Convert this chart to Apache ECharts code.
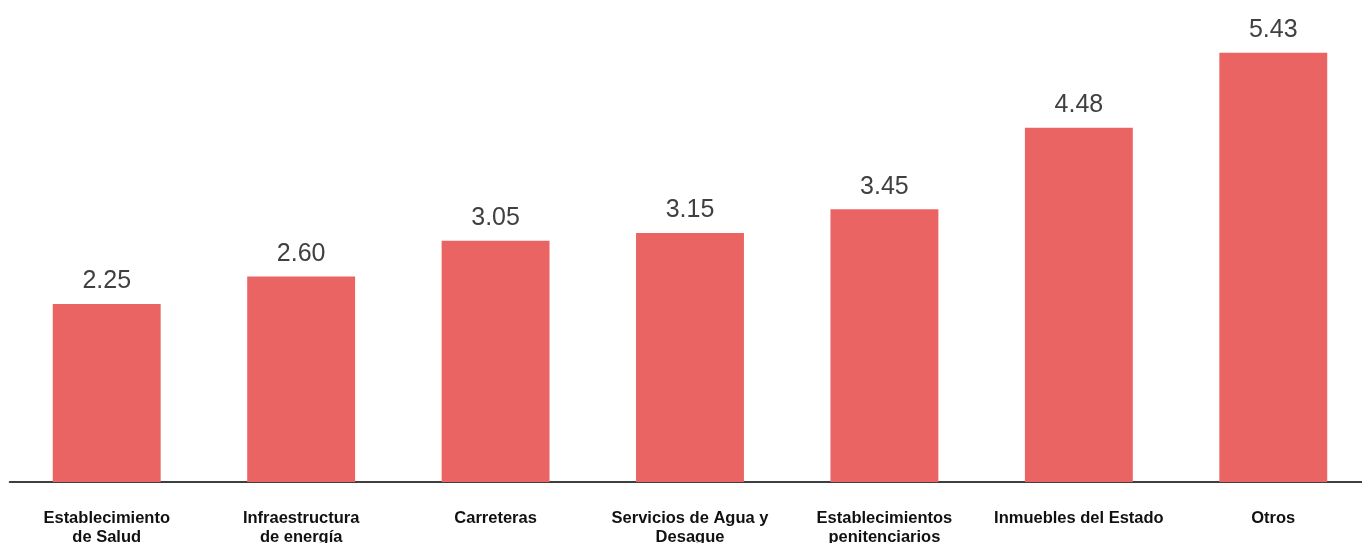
<!DOCTYPE html>
<html>
<head>
<meta charset="utf-8">
<style>
  html, body { margin: 0; padding: 0; background: #fff; }
  #main { width: 1362px; height: 543px; }
</style>
<script src="https://cdn.jsdelivr.net/npm/echarts@6/dist/echarts.min.js"></script>
</head>
<body>
<div id="main"></div>
<script>
// categorias (eje x)
const categories = [
  "Establecimiento\nde Salud",
  "Infraestructura\nde energía",
  "Carreteras",
  "Servicios de Agua y\nDesague",
  "Establecimientos\npenitenciarios",
  "Inmuebles del Estado",
  "Otros"
];

// valores de las barras
const values = [2.25, 2.60, 3.05, 3.15, 3.45, 4.48, 5.43];

const option = {
  backgroundColor: "#ffffff",
  animation: false,
  // el grafico original sale un poco recortado a la derecha y abajo
  grid: {
    left: 9.5, width: 1361, top: 6, bottom: 61,
    containLabel: false, outerBoundsMode: "none"
  },
  xAxis: {
    type: "category",
    data: categories,
    axisLine: { show: true, lineStyle: { color: "#000", width: 1.5 } },
    axisTick: { show: false },
    axisLabel: {
      interval: 0,
      margin: 27,
      fontFamily: "Liberation Sans, Arial, sans-serif",
      fontSize: 16.5,
      fontWeight: "bold",
      lineHeight: 19,
      color: "#111"
    }
  },
  yAxis: {
    type: "value",
    min: 0,
    max: 6.02,
    show: false,
    splitLine: { show: false }
  },
  series: [
    {
      type: "bar",
      data: values,
      barWidth: "55.5%",
      itemStyle: { color: "#EA6464" },
      label: {
        show: true,
        position: "top",
        distance: 10,
        fontFamily: "Liberation Sans, Arial, sans-serif",
        fontSize: 25,
        color: "#404040",
        formatter: function (p) { return p.value.toFixed(2); }
      }
    }
  ]
};

// inicializar el grafico
const myChart = echarts.init(document.getElementById("main"));
myChart.setOption(option);
</script>
</body>
</html>
